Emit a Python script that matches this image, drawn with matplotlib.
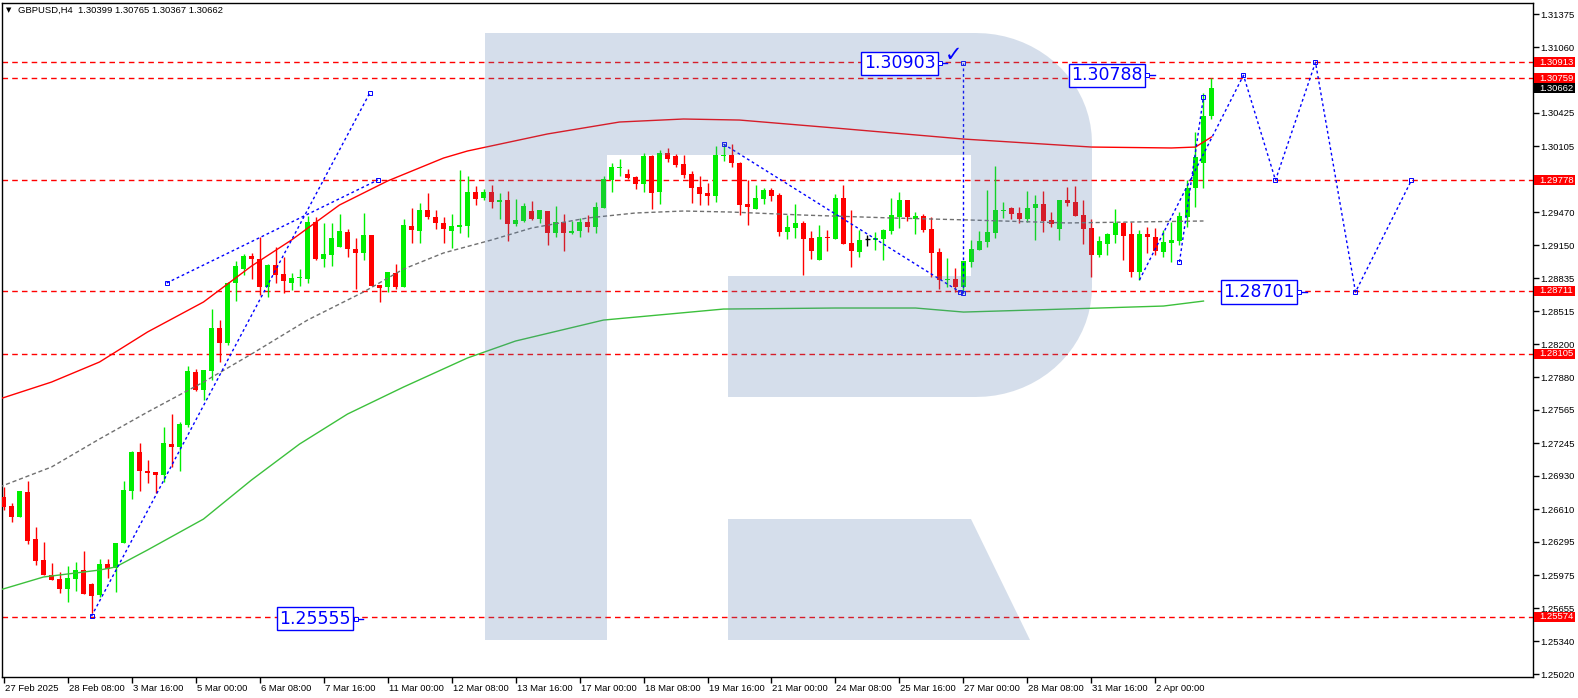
import numpy as np
import matplotlib
matplotlib.use('Agg')
import matplotlib.pyplot as plt
from matplotlib.patches import Rectangle, Polygon
from matplotlib import transforms

plt.rcParams['font.family'] = ['Liberation Sans', 'DejaVu Sans']

W, H = 1578, 698

# GBPUSD H4 candles (one per bar, oldest first)
opens = [1.26727, 1.26640, 1.26534, 1.26775, 1.26323, 1.26120, 1.25976, 1.25938, 1.25841, 1.25938,
         1.26024, 1.25889, 1.25783, 1.26082, 1.26043, 1.26284, 1.26785, 1.27160, 1.26977, 1.26968,
         1.26939, 1.27237, 1.27208, 1.27420, 1.27931, 1.27757, 1.27940, 1.28354, 1.28210, 1.28788,
         1.28922, 1.29048, 1.29019, 1.28749, 1.28961, 1.28874, 1.28788, 1.28836, 1.28826, 1.29375,
         1.29019, 1.29057, 1.29134, 1.29279, 1.29115, 1.29077, 1.29250, 1.28768, 1.28749, 1.28884,
         1.28749, 1.29337, 1.29288, 1.29491, 1.29423, 1.29366, 1.29288, 1.29327, 1.29337, 1.29664,
         1.29606, 1.29664, 1.29568, 1.29587, 1.29356, 1.29385, 1.29481, 1.29404, 1.29481, 1.29269,
         1.29375, 1.29269, 1.29288, 1.29375, 1.29327, 1.29510, 1.29780, 1.29898, 1.29837, 1.29808,
         1.29741, 1.30011, 1.29664, 1.30040, 1.30011, 1.29934, 1.29837, 1.29712, 1.29654, 1.29626,
         1.30013, 1.30020, 1.29943, 1.29549, 1.29500, 1.29597, 1.29683, 1.29635, 1.29279, 1.29317,
         1.29366, 1.29221, 1.29009, 1.29228, 1.29211, 1.29606, 1.29173, 1.29086, 1.29208, 1.29202,
         1.29211, 1.29288, 1.29423, 1.29587, 1.29404, 1.29433, 1.29308, 1.29086, 1.28817, 1.28826,
         1.28749, 1.28990, 1.29106, 1.29182, 1.29269, 1.29484, 1.29510, 1.29462, 1.29404, 1.29510,
         1.29549, 1.29394, 1.29308, 1.29587, 1.29568, 1.29442, 1.29317, 1.29057, 1.29163, 1.29250,
         1.29366, 1.29260, 1.28894, 1.29260, 1.29231, 1.29086, 1.29173, 1.29192, 1.29423, 1.29703,
         1.29943, 1.30399]
highs = [1.26824, 1.26669, 1.26785, 1.26881, 1.26438, 1.26294, 1.26091, 1.26005, 1.26063, 1.26101,
         1.26207, 1.25899, 1.26130, 1.26130, 1.26284, 1.26881, 1.27170, 1.27247, 1.27083, 1.26968,
         1.27401, 1.27526, 1.27449, 1.27988, 1.27960, 1.27950, 1.28537, 1.28431, 1.28797, 1.29000,
         1.29067, 1.29077, 1.29231, 1.28971, 1.29134, 1.29038, 1.28884, 1.28922, 1.29433, 1.29423,
         1.29366, 1.29366, 1.29452, 1.29308, 1.29221, 1.29462, 1.29250, 1.28768, 1.28894, 1.28971,
         1.29404, 1.29510, 1.29558, 1.29654, 1.29491, 1.29423, 1.29452, 1.29876, 1.29818, 1.29722,
         1.29693, 1.29731, 1.29654, 1.29674, 1.29597, 1.29558, 1.29577, 1.29491, 1.29481, 1.29529,
         1.29452, 1.29385, 1.29414, 1.29442, 1.29568, 1.29818, 1.29943, 1.29982, 1.29886, 1.29818,
         1.30040, 1.30020, 1.30069, 1.30088, 1.30030, 1.30020, 1.29866, 1.29818, 1.29751, 1.30107,
         1.30126, 1.30126, 1.29953, 1.29780, 1.29731, 1.29703, 1.29703, 1.29654, 1.29442, 1.29549,
         1.29385, 1.29288, 1.29346, 1.29298, 1.29645, 1.29731, 1.29491, 1.29298, 1.29250, 1.29279,
         1.29308, 1.29606, 1.29664, 1.29587, 1.29471, 1.29452, 1.29423, 1.29125, 1.29028, 1.28932,
         1.29000, 1.29202, 1.29288, 1.29683, 1.29914, 1.29568, 1.29520, 1.29520, 1.29674, 1.29635,
         1.29674, 1.29471, 1.29587, 1.29712, 1.29722, 1.29587, 1.29404, 1.29240, 1.29269, 1.29500,
         1.29375, 1.29375, 1.29298, 1.29327, 1.29317, 1.29298, 1.29375, 1.29471, 1.29780, 1.30242,
         1.30617, 1.30765]
lows = [1.26602, 1.26486, 1.26534, 1.26274, 1.26072, 1.25976, 1.25928, 1.25802, 1.25716, 1.25822,
        1.25793, 1.25610, 1.25764, 1.25947, 1.25812, 1.26284, 1.26708, 1.26785, 1.26862, 1.26766,
        1.26872, 1.27016, 1.26977, 1.27401, 1.27748, 1.27661, 1.27854, 1.28027, 1.28191, 1.28614,
        1.28865, 1.28826, 1.28672, 1.28653, 1.28788, 1.28691, 1.28720, 1.28759, 1.28788, 1.29009,
        1.28942, 1.28951, 1.29134, 1.29038, 1.28730, 1.29009, 1.28759, 1.28605, 1.28701, 1.28730,
        1.28749, 1.29173, 1.29173, 1.29404, 1.29308, 1.29173, 1.29125, 1.29269, 1.29231, 1.29539,
        1.29587, 1.29510, 1.29404, 1.29192, 1.29337, 1.29375, 1.29394, 1.29366, 1.29154, 1.29231,
        1.29096, 1.29260, 1.29231, 1.29279, 1.29269, 1.29510, 1.29664, 1.29818, 1.29789, 1.29693,
        1.29664, 1.29500, 1.29549, 1.29953, 1.29905, 1.29799, 1.29558, 1.29539, 1.29539, 1.29568,
        1.29963, 1.29905, 1.29442, 1.29346, 1.29500, 1.29549, 1.29577, 1.29240, 1.29211, 1.29221,
        1.28865, 1.29019, 1.29009, 1.29096, 1.29211, 1.29163, 1.28942, 1.29038, 1.29144, 1.29106,
        1.29009, 1.29260, 1.29317, 1.29385, 1.29260, 1.29279, 1.28846, 1.28730, 1.28749, 1.28701,
        1.28691, 1.28942, 1.29106, 1.29134, 1.29221, 1.29414, 1.29404, 1.29366, 1.29375, 1.29202,
        1.29279, 1.29327, 1.29202, 1.29529, 1.29433, 1.29163, 1.28846, 1.29038, 1.29057, 1.29173,
        1.29009, 1.28846, 1.28817, 1.29077, 1.29057, 1.29038, 1.28990, 1.29154, 1.29327, 1.29520,
        1.29703, 1.30367]
closes = [1.26631, 1.26534, 1.26785, 1.26303, 1.26110, 1.25976, 1.25928, 1.25841, 1.25947, 1.26024,
          1.25793, 1.25774, 1.26082, 1.26034, 1.26284, 1.26794, 1.27160, 1.26977, 1.26958, 1.26939,
          1.27247, 1.27208, 1.27430, 1.27940, 1.27757, 1.27950, 1.28354, 1.28210, 1.28788, 1.28951,
          1.29048, 1.29019, 1.28749, 1.28961, 1.28865, 1.28807, 1.28836, 1.28842, 1.29375, 1.29019,
          1.29067, 1.29221, 1.29288, 1.29115, 1.29077, 1.29250, 1.28759, 1.28740, 1.28894, 1.28749,
          1.29346, 1.29298, 1.29491, 1.29423, 1.29366, 1.29308, 1.29337, 1.29346, 1.29664, 1.29597,
          1.29664, 1.29568, 1.29587, 1.29356, 1.29394, 1.29529, 1.29404, 1.29491, 1.29269, 1.29375,
          1.29269, 1.29288, 1.29375, 1.29327, 1.29520, 1.29789, 1.29905, 1.29905, 1.29799, 1.29741,
          1.30011, 1.29654, 1.30040, 1.29982, 1.29924, 1.29828, 1.29703, 1.29645, 1.29626, 1.30020,
          1.30020, 1.29943, 1.29539, 1.29520, 1.29606, 1.29683, 1.29626, 1.29279, 1.29327, 1.29366,
          1.29211, 1.29096, 1.29231, 1.29221, 1.29606, 1.29163, 1.29096, 1.29202, 1.29208, 1.29221,
          1.29298, 1.29442, 1.29587, 1.29423, 1.29433, 1.29298, 1.29077, 1.28817, 1.28824, 1.28749,
          1.29000, 1.29115, 1.29192, 1.29279, 1.29491, 1.29491, 1.29452, 1.29404, 1.29510, 1.29549,
          1.29385, 1.29356, 1.29587, 1.29558, 1.29433, 1.29308, 1.29057, 1.29192, 1.29260, 1.29366,
          1.29240, 1.28894, 1.29260, 1.29231, 1.29096, 1.29182, 1.29202, 1.29433, 1.29703, 1.30001,
          1.30396, 1.30662]

date_labels = ['27 Feb 2025', '28 Feb 08:00', '3 Mar 16:00', '5 Mar 00:00', '6 Mar 08:00',
               '7 Mar 16:00', '11 Mar 00:00', '12 Mar 08:00', '13 Mar 16:00', '17 Mar 00:00',
               '18 Mar 08:00', '19 Mar 16:00', '21 Mar 00:00', '24 Mar 08:00', '25 Mar 16:00',
               '27 Mar 00:00', '28 Mar 08:00', '31 Mar 16:00', '2 Apr 00:00']
bars_per_label = 8

price_ticks = [1.31375, 1.31060, 1.30745, 1.30425, 1.30105, 1.29790, 1.29470, 1.29150,
               1.28835, 1.28515, 1.28200, 1.27880, 1.27565, 1.27245, 1.26930, 1.26610,
               1.26295, 1.25975, 1.25655, 1.25340, 1.25020]

# moving averages (bar index, price)
ma_red_x = [-0.5, 6, 12, 18, 25, 31, 36, 42, 48, 55, 58, 68, 77, 85, 92, 104, 120, 136, 146, 149, 151]
ma_red_y = [1.27671, 1.27834, 1.28027, 1.28316, 1.28605, 1.28951, 1.29202, 1.29539, 1.29770,
            1.29991, 1.30059, 1.30223, 1.30338, 1.30367, 1.30357, 1.30280, 1.30174, 1.30097,
            1.30088, 1.30097, 1.30194]
ma_gray_x = [-0.5, 6, 12, 18, 25, 31, 38, 45, 50, 55, 61, 66, 73, 79, 85, 91, 100, 111, 121, 133, 150]
ma_gray_y = [1.26824, 1.27016, 1.27286, 1.27545, 1.27834, 1.28104, 1.28431, 1.28701, 1.28922,
             1.29077, 1.29202, 1.29317, 1.29414, 1.29462, 1.29481, 1.29471, 1.29442, 1.29414,
             1.29394, 1.29366, 1.29385]
ma_green_x = [-0.5, 5, 12, 14, 18, 25, 31, 37, 43, 50, 58, 64, 75, 90, 104, 114, 120, 137, 145, 150]
ma_green_y = [1.25831, 1.25957, 1.26024, 1.26053, 1.26217, 1.26515, 1.26891, 1.27237, 1.27526,
              1.27786, 1.28066, 1.28229, 1.28431, 1.28537, 1.28547, 1.28547, 1.28508, 1.28547,
              1.28566, 1.28614]

levels = [1.30913, 1.30759, 1.29778, 1.28711, 1.28105, 1.25574]
last_price = 1.30662
header = 'GBPUSD,H4  1.30399 1.30765 1.30367 1.30662'

# analysis lines (bar index, price)
trend_lines = [
    ([11, 45.8], [1.25580, 1.30620]),
    ([20.4, 46.8], [1.28788, 1.29780]),
    ([90, 119.6], [1.30126, 1.28700]),
    ([147, 150], [1.28990, 1.30580]),
    ([120, 120], [1.28690, 1.30903]),
]
forecast_x = [142, 155, 159, 164, 169, 176]
forecast_y = [1.28817, 1.30788, 1.29778, 1.30913, 1.28701, 1.29778]

target_texts = ['1.30903', '1.30788', '1.28701', '1.25555']
target_prices = [1.30903, 1.30788, 1.28701, 1.25555]


def px(points):
    return [(x / W, 1 - y / H) for x, y in points]


def draw_logo(fig, ax):
    kw = dict(transform=fig.transFigure, facecolor='#567bad', alpha=0.243, lw=0, zorder=4)
    ax.add_patch(Polygon(px([(485, 33), (607, 33), (607, 640), (485, 640)]), **kw))
    t1 = np.linspace(np.pi / 2, 0, 20)
    t2 = np.linspace(0, -np.pi / 2, 20)
    bowl = [(607, 33)]
    bowl += [(976 + 116 * np.cos(t), 143 - 110 * np.sin(t)) for t in t1]
    bowl += [(976 + 116 * np.cos(t), 287 - 110 * np.sin(t)) for t in t2]
    bowl += [(728, 397), (728, 276), (971, 276), (971, 155), (607, 155)]
    ax.add_patch(Polygon(px(bowl), **kw))
    ax.add_patch(Polygon(px([(728, 519), (971, 519), (1030, 640), (728, 640)]), **kw))


def main():
    fig = plt.figure(figsize=(W / 100, H / 100), dpi=100)
    ax = fig.add_axes([2 / W, 21 / H, 1531 / W, 674 / H])
    ax.set_xlim(-0.19, 191.19)
    y0, y1 = 1.24994, 1.31484
    ax.set_ylim(y0, y1)

    o, h, l, c = map(np.array, (opens, highs, lows, closes))
    idx = np.arange(len(o))
    for mask, col in ((c > o, '#00ee00'), (c < o, '#ff0000'), (c == o, 'black')):
        ax.vlines(idx[mask], l[mask], h[mask], color=col, lw=1, zorder=3)
        ax.bar(idx[mask], np.abs(c - o)[mask], width=0.6, bottom=np.minimum(o, c)[mask],
               color=col, lw=0, zorder=3)
    flat = c == o
    ax.hlines(o[flat], idx[flat] - 0.3, idx[flat] + 0.3, color='black', lw=1, zorder=3)

    ax.plot(ma_red_x, ma_red_y, color='#ff0000', lw=1, zorder=3)
    ax.plot(ma_gray_x, ma_gray_y, color='#707070', lw=1, ls=(0, (3, 2)), zorder=3)
    ax.plot(ma_green_x, ma_green_y, color='#3cc03c', lw=1, zorder=3)

    for p in levels:
        ax.axhline(p, color='#ff0000', lw=1, ls=(0, (4, 3)), zorder=2)

    blue = '#0000ff'
    mk = dict(ms=2.2, mfc='none', mec=blue, mew=0.7, zorder=3)
    for xs, ys in trend_lines:
        ax.plot(xs, ys, color=blue, lw=1, ls=(0, (2, 2)), zorder=3)
        ax.plot(xs, ys, 's', **mk)
    ax.plot(forecast_x, forecast_y, color=blue, lw=1, ls=(0, (2, 2)), zorder=3)
    ax.plot(forecast_x[1:], forecast_y[1:], 's', **mk)

    draw_logo(fig, ax)

    # target boxes with short connectors
    box_right = [116.5, 142.4, 161.4, 43.4]
    for xr, p, txt in zip(box_right, target_prices, target_texts):
        ax.text(xr, p, txt, ha='right', va='center', fontsize=12.5, color=blue,
                family='DejaVu Sans', zorder=10,
                bbox=dict(boxstyle='square,pad=0.15', fc='white', ec=blue, lw=1))
        ax.plot([xr + 0.5, xr + 1.5], [p, p], color=blue, lw=1, zorder=10)
        ax.plot([xr + 0.6], [p], 's', ms=2.2, mfc='white', mec=blue, mew=0.7, zorder=10)
    ax.text(118.8, 1.30985, '\u2713', ha='center', va='center', fontsize=15, color=blue,
            family='DejaVu Sans', zorder=10)

    # right axis
    ax.yaxis.tick_right()
    ax.set_yticks(price_ticks)
    ax.set_yticklabels([f'{t:.5f}' for t in price_ticks])
    ax.tick_params(axis='y', length=4, width=1, pad=1.5, labelsize=6.8)

    bt = transforms.blended_transform_factory(fig.transFigure, ax.transData)
    tag_h = 10 * (y1 - y0) / 674
    tags = [(p, '#ff0000') for p in levels] + [(last_price, 'black')]
    for p, col in tags:
        ax.add_patch(Rectangle((1534 / W, p - tag_h / 2), 41 / W, tag_h, transform=bt,
                               facecolor=col, lw=0, clip_on=False, zorder=8))
        ax.text(1539 / W, p, f'{p:.5f}', transform=bt, color='white', fontsize=6.8,
                va='center', ha='left', clip_on=False, zorder=9)

    # bottom axis
    xt = np.arange(len(date_labels)) * bars_per_label
    ax.set_xticks(xt)
    ax.set_xticklabels(date_labels)
    ax.tick_params(axis='x', length=4, width=1, pad=1, labelsize=6.8)
    shift = transforms.ScaledTranslation(1 / 100, 0, fig.dpi_scale_trans)
    for lab in ax.get_xticklabels():
        lab.set_ha('left')
        lab.set_transform(lab.get_transform() + shift)

    for s in ax.spines.values():
        s.set_color('black')
        s.set_linewidth(1)

    fig.text(6 / W, 1 - 10.5 / H, '\u25bc', fontsize=5, va='center', family='DejaVu Sans')
    fig.text(18 / W, 1 - 10.5 / H, header, fontsize=6.8, va='center')

    fig.savefig('out.png', dpi=100)


if __name__ == '__main__':
    main()
